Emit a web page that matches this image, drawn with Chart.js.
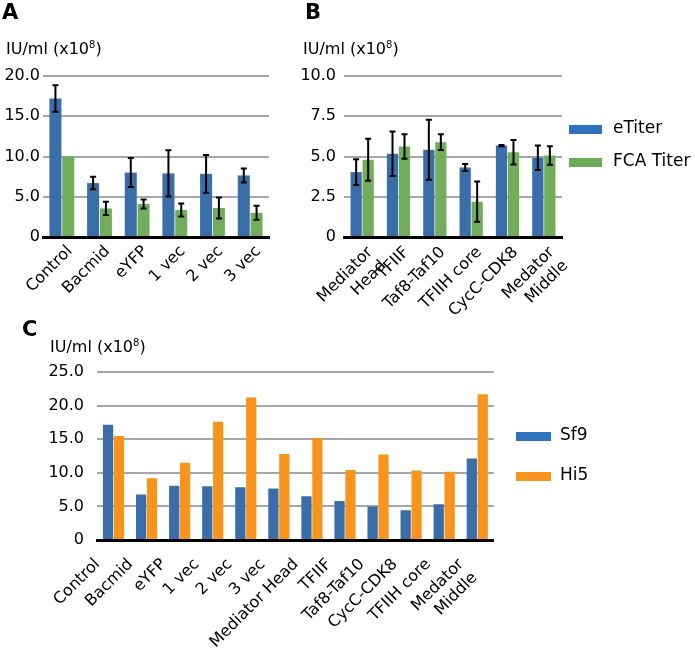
<!DOCTYPE html>
<html>
<head>
<meta charset="utf-8">
<script src="https://cdn.jsdelivr.net/npm/chart.js@4.4.1/dist/chart.umd.min.js"></script>
<style>
  body { margin: 0; background: #fff; }
  #wrap { position: relative; width: 695px; height: 654px; font-family: "DejaVu Sans", sans-serif; color: #000; }
  canvas { position: absolute; }
  .tag { position: absolute; font-weight: bold; font-size: 21px; line-height: 1; }
  .unit { position: absolute; font-size: 16px; line-height: 1; white-space: nowrap; }
  .unit sup { font-size: 10px; vertical-align: 6px; line-height: 0; }
  .sw { position: absolute; width: 33px; height: 9px; }
  .lg { position: absolute; font-size: 17px; line-height: 1; white-space: nowrap; }
</style>
</head>
<body>
<div id="wrap">
  <canvas id="chartA" width="290" height="330" style="left:0;top:0"></canvas>
  <canvas id="chartB" width="290" height="330" style="left:290px;top:0"></canvas>
  <canvas id="chartC" width="520" height="324" style="left:0;top:330px"></canvas>

  <div class="tag" style="left:2px;top:2px">A</div>
  <div class="tag" style="left:305px;top:2px">B</div>
  <div class="tag" style="left:22px;top:319px">C</div>

  <div class="unit" style="left:6px;top:41px">IU/ml (x10<sup>8</sup>)</div>
  <div class="unit" style="left:303px;top:41px">IU/ml (x10<sup>8</sup>)</div>
  <div class="unit" style="left:50px;top:339px">IU/ml (x10<sup>8</sup>)</div>

  <div class="sw" style="left:569px;top:125px;background:#2e72bd"></div>
  <div class="lg" style="left:613px;top:119px">eTiter</div>
  <div class="sw" style="left:569px;top:158px;background:#6cab55"></div>
  <div class="lg" style="left:613px;top:152px">FCA Titer</div>

  <div class="sw" style="left:516px;top:432px;width:35px;background:#2e72bd"></div>
  <div class="lg" style="left:560px;top:426px">Sf9</div>
  <div class="sw" style="left:516px;top:472px;width:35px;background:#f7941d"></div>
  <div class="lg" style="left:560px;top:466px">Hi5</div>
</div>

<script>
// --- Data ---

// Panel A: eTiter vs FCA titer for control constructs
const labelsA = ["Control", "Bacmid", "eYFP", "1 vec", "2 vec", "3 vec"];
const eTiterA = [17.2, 6.7, 8.0, 7.9, 7.85, 7.65];
const eTiterErrA = [1.65, 0.78, 1.8, 2.88, 2.35, 0.87];
const fcaA = [10.0, 3.55, 4.1, 3.35, 3.6, 3.0];
const fcaErrA = [null, 0.82, 0.57, 0.8, 1.3, 0.87];
const ticksA = [0, 5, 10, 15, 20];

// Panel B: eTiter vs FCA titer for complexes
const labelsB = [["Mediator", "Head"], "TFIIF", "Taf8-Taf10", "TFIIH core", "CycC-CDK8", ["Medator", "Middle"]];
const eTiterB = [4.03, 5.17, 5.42, 4.32, 5.68, 4.92];
const eTiterErrB = [0.8, 1.38, 1.87, 0.22, 0.04, 0.76];
const fcaB = [4.8, 5.62, 5.89, 2.19, 5.27, 5.06];
const fcaErrB = [1.3, 0.76, 0.49, 1.25, 0.76, 0.57];
const ticksB = [0, 2.5, 5, 7.5, 10];

// Panel C: Sf9 vs Hi5 cells
const labelsC = ["Control", "Bacmid", "eYFP", "1 vec", "2 vec", "3 vec", "Mediator Head", "TFIIF",
  "Taf8-Taf10", "CycC-CDK8", "TFIIH core", ["Medator", "Middle"]];
const sf9C = [17.16, 6.77, 8.06, 8.0, 7.86, 7.66, 6.52, 5.82, 4.97, 4.43, 5.32, 12.13];
const hi5C = [15.47, 9.2, 11.5, 17.6, 21.2, 12.8, 15.18, 10.4, 12.74, 10.35, 10.15, 21.7];
const ticksC = [0, 5, 10, 15, 20, 25];

const BLUE = "#3a6ea8";
const GREEN = "#72ad5b";
const ORANGE = "#f7941d";
const FONT = "'DejaVu Sans', sans-serif";

// --- Error bar plugin (draws mean +/- sd using the y scale) ---
const errorBars = {
  id: "errorBars",
  afterDatasetsDraw(chart) {
    const ctx = chart.ctx;
    const y = chart.scales.y;
    chart.data.datasets.forEach((ds, i) => {
      if (!ds.errors) return;
      chart.getDatasetMeta(i).data.forEach((bar, j) => {
        const err = ds.errors[j];
        if (err == null) return;
        const top = y.getPixelForValue(ds.data[j] + err);
        const bot = y.getPixelForValue(ds.data[j] - err);
        ctx.save();
        ctx.strokeStyle = "#000";
        ctx.lineWidth = 2;
        ctx.beginPath();
        ctx.moveTo(bar.x, top); ctx.lineTo(bar.x, bot);
        ctx.moveTo(bar.x - 3, top); ctx.lineTo(bar.x + 3, top);
        ctx.moveTo(bar.x - 3, bot); ctx.lineTo(bar.x + 3, bot);
        ctx.stroke();
        ctx.restore();
      });
    });
  }
};

function makeChart(id, labels, sets, opt) {
  return new Chart(document.getElementById(id), {
    type: "bar",
    data: {
      labels: labels,
      datasets: sets.map((s) => ({
        data: s.data,
        errors: s.errors,
        backgroundColor: s.color,
        borderWidth: 0,
        categoryPercentage: opt.cat,
        barPercentage: opt.bar,
      })),
    },
    options: {
      responsive: false,
      animation: false,
      layout: { padding: { top: opt.top, right: opt.right, left: 0, bottom: 0 } },
      plugins: { legend: { display: false }, tooltip: { enabled: false } },
      scales: {
        x: {
          grid: { display: false, drawTicks: false },
          border: { color: "#000", width: 3 },
          ticks: {
            font: { family: FONT, size: 16 },
            color: "#000",
            autoSkip: false,
            minRotation: 45,
            maxRotation: 45,
            padding: opt.xpad,
            labelOffset: opt.xoff,
          },
          afterFit: (s) => { s.height = opt.xh; },
        },
        y: {
          min: 0,
          max: opt.ticks[opt.ticks.length - 1],
          afterBuildTicks: (s) => { s.ticks = opt.ticks.map((v) => ({ value: v })); },
          grid: { color: "#a6a6a6", lineWidth: 2, drawTicks: false },
          border: { display: false },
          ticks: {
            font: { family: FONT, size: 16 },
            color: "#000",
            padding: opt.ypad,
            callback: (v) => (v === 0 ? "0" : v.toFixed(1)),
          },
          afterFit: (s) => { s.width = opt.yw; },
        },
      },
    },
    plugins: [errorBars],
  });
}

makeChart("chartA", labelsA, [
  { data: eTiterA, errors: eTiterErrA, color: BLUE },
  { data: fcaA, errors: fcaErrA, color: GREEN },
], { ticks: ticksA, top: 76, right: 21, yw: 43, xh: 93, ypad: 3, xpad: 5, xoff: 8, cat: 0.68, bar: 0.94 });

makeChart("chartB", labelsB, [
  { data: eTiterB, errors: eTiterErrB, color: BLUE },
  { data: fcaB, errors: fcaErrB, color: GREEN },
], { ticks: ticksB, top: 76, right: 18, yw: 54, xh: 93, ypad: 8, xpad: 6, xoff: 8, cat: 0.66, bar: 0.94 });

makeChart("chartC", labelsC, [
  { data: sf9C, color: BLUE },
  { data: hi5C, color: ORANGE },
], { ticks: ticksC, top: 42, right: 14, yw: 97, xh: 114, ypad: 13, xpad: 15, xoff: -16, cat: 0.66, bar: 0.94 });
</script>
</body>
</html>
